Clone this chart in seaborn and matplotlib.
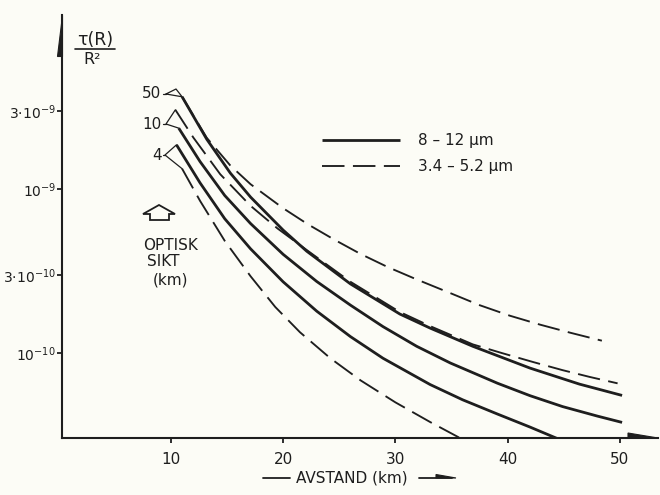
import matplotlib
matplotlib.use("Agg")
import matplotlib.pyplot as plt
from matplotlib.lines import Line2D
from matplotlib.patches import Polygon
from matplotlib.ticker import NullLocator
import seaborn as sns

# ---------------- data ----------------
# distance R in km, and tau(R)/R^2
s50_km = [11.0, 13.2, 15.3, 17.1, 20.0, 22.1, 26.0, 30.4, 33.1, 36.9, 42.0, 46.4, 50.2]
s50_val = [3.65e-9, 2.01e-9, 1.25e-9, 8.93e-10, 5.62e-10, 4.18e-10, 2.64e-10,
           1.73e-10, 1.42e-10, 1.10e-10, 8.10e-11, 6.47e-11, 5.52e-11]
d50_km = [11.0, 13.2, 15.3, 17.1, 20.0, 22.2, 24.5, 26.9, 29.3, 31.8, 34.9, 37.5,
          40.2, 42.9, 45.6, 48.4]
d50_val = [3.65e-9, 2.05e-9, 1.39e-9, 1.07e-9, 7.64e-10, 6.10e-10, 4.94e-10,
           4.02e-10, 3.35e-10, 2.83e-10, 2.32e-10, 1.96e-10, 1.69e-10, 1.49e-10,
           1.33e-10, 1.19e-10]
s10_km = [10.7, 12.6, 14.8, 17.1, 20.0, 23.0, 26.0, 28.9, 31.9, 34.9, 39.1, 42.0,
          44.9, 48.0, 50.2]
s10_val = [2.35e-9, 1.47e-9, 9.13e-10, 6.16e-10, 4.00e-10, 2.73e-10, 1.96e-10,
           1.45e-10, 1.10e-10, 8.70e-11, 6.55e-11, 5.50e-11, 4.72e-11, 4.13e-11,
           3.78e-11]
d10_km = [10.4, 12.0, 14.4, 17.1, 19.5, 22.1, 26.0, 30.4, 33.1, 36.9, 39.5, 42.3,
          44.9, 47.3, 49.8]
d10_val = [3.04e-9, 2.06e-9, 1.23e-9, 7.90e-10, 5.75e-10, 4.25e-10, 2.72e-10,
           1.78e-10, 1.46e-10, 1.13e-10, 1.00e-10, 8.81e-11, 7.87e-11, 7.16e-11,
           6.54e-11]
s4_km = [10.5, 12.6, 14.8, 17.1, 20.0, 23.0, 26.0, 28.9, 33.1, 36.0, 39.1, 42.0, 44.5]
s4_val = [1.86e-9, 1.09e-9, 6.59e-10, 4.32e-10, 2.72e-10, 1.80e-10, 1.26e-10,
          9.30e-11, 6.43e-11, 5.19e-11, 4.25e-11, 3.54e-11, 3.0e-11]
d4_km = [11.0, 12.6, 14.8, 17.1, 19.3, 21.5, 24.2, 26.9, 30.0, 33.1, 35.9]
d4_val = [1.33e-9, 8.47e-10, 4.83e-10, 2.94e-10, 1.91e-10, 1.34e-10, 9.31e-11,
          6.82e-11, 5.01e-11, 3.80e-11, 3.0e-11]

band_labels = ["8 – 12 µm", "3.4 – 5.2 µm"]
sikt_labels = ["50", "10", "4"]
x_ticks = [10, 20, 30, 40, 50]
x_ticklabels = ["10", "20", "30", "40", "50"]
y_ticks = [3e-9, 1e-9, 3e-10, 1e-10]
y_ticklabels = [r"$3{\cdot}10^{-9}$", r"$10^{-9}$", r"$3{\cdot}10^{-10}$", r"$10^{-10}$"]

# ---------------- style ----------------
sns.set_style("ticks")
plt.rcParams["font.family"] = ["DejaVu Sans"]
plt.rcParams["mathtext.fontset"] = "dejavusans"
plt.rcParams["mathtext.default"] = "regular"

INK = "#1e1e1e"
BG = "#fcfcf6"
W, H = 660, 495


def fx(px):
    return px / W


def fy(py):
    return 1 - py / H


fig = plt.figure(figsize=(6.6, 4.95), dpi=100, facecolor=BG)
ax = fig.add_axes([fx(62), fy(437.7), (658 - 62) / W, (437.7 - 15) / H])
ax.set_facecolor(BG)
ax.set_yscale("log")

solid_kw = dict(color=INK, linewidth=2.0, solid_capstyle="butt", solid_joinstyle="round")
dash_kw = dict(color=INK, linewidth=1.35, linestyle=(0, (12, 4.5)), dash_capstyle="butt")

curves = [
    (s50_km, s50_val, solid_kw),
    (d50_km, d50_val, dash_kw),
    (s10_km, s10_val, solid_kw),
    (d10_km, d10_val, dash_kw),
    (s4_km, s4_val, solid_kw),
    (d4_km, d4_val, dash_kw),
]
for km, val, kw in curves:
    sns.lineplot(x=km, y=val, ax=ax, sort=False, estimator=None, legend=False, **kw)

ax.set_xlim(0.3, 53.4)
ax.set_ylim(3.05e-11, 1.15e-8)
ax.set_xticks(x_ticks)
ax.set_xticklabels(x_ticklabels)
ax.set_yticks(y_ticks)
ax.set_yticklabels(y_ticklabels)
ax.yaxis.set_minor_locator(NullLocator())
ax.xaxis.set_minor_locator(NullLocator())
ax.set_xlabel("")
ax.set_ylabel("")
ax.tick_params(axis="both", direction="out", color=INK, width=1.3, labelcolor=INK)
ax.tick_params(axis="y", length=3.5, pad=0.8, labelsize=10)
ax.tick_params(axis="x", length=3.5, pad=7, labelsize=11)
for s in ["top", "right"]:
    ax.spines[s].set_visible(False)
for s in ["left", "bottom"]:
    ax.spines[s].set_color(INK)
    ax.spines[s].set_linewidth(1.5)

# axis arrow heads (half heads, as drawn)
fig.add_artist(Polygon([(fx(62), fy(15)), (fx(62), fy(56)), (fx(57), fy(56))],
                       closed=True, transform=fig.transFigure, fc=INK, ec=INK, lw=0.8))
fig.add_artist(Polygon([(fx(628), fy(433)), (fx(658), fy(438)), (fx(628), fy(438))],
                       closed=True, transform=fig.transFigure, fc=INK, ec=INK, lw=0.8))

# legend
lines = ax.get_lines()
ax.legend([lines[0], lines[1]], band_labels, loc="upper left",
          bbox_to_anchor=(fx(322), fy(133)), bbox_transform=fig.transFigure,
          frameon=False, handlelength=5.1, handletextpad=1.2, labelspacing=0.75,
          borderpad=0, borderaxespad=0, fontsize=11, labelcolor=INK)

# y-axis quantity  tau(R) / R^2
fig.text(fx(95), fy(40), "τ(R)", ha="center", va="center", fontsize=12.5, color=INK)
fig.add_artist(Line2D([fx(75), fx(115)], [fy(49), fy(49)], transform=fig.transFigure,
                      color=INK, lw=1.2))
fig.text(fx(92), fy(59), "R²", ha="center", va="center", fontsize=11.5, color=INK)

# x-axis caption with arrow
fig.text(fx(352), fy(478), "AVSTAND (km)", ha="center", va="center", fontsize=11, color=INK)
fig.add_artist(Line2D([fx(263), fx(290)], [fy(478), fy(478)], transform=fig.transFigure,
                      color=INK, lw=1.3))
fig.add_artist(Line2D([fx(419), fx(452)], [fy(478), fy(478)], transform=fig.transFigure,
                      color=INK, lw=1.3))
fig.add_artist(Polygon([(fx(436), fy(474.5)), (fx(456), fy(478)), (fx(436), fy(478))],
                       closed=True, transform=fig.transFigure, fc=INK, ec=INK, lw=0.8))

# OPTISK SIKT labels with brackets pointing at the curve starts
fig.canvas.draw()
inv = ax.transData.inverted()


def p2d(px, py):
    return inv.transform((px, H - py))


label_y = [94, 124, 155]
apex_x = [166, 166, 165]
pairs = [((s50_km[0], s50_val[0]), (d50_km[0], d50_val[0])),
         ((d10_km[0], d10_val[0]), (s10_km[0], s10_val[0])),
         ((s4_km[0], s4_val[0]), (d4_km[0], d4_val[0]))]
for lab, ly, axp, (p_up, p_lo) in zip(sikt_labels, label_y, apex_x, pairs):
    fig.text(fx(161.5), fy(ly), lab, ha="right", va="center", fontsize=11, color=INK)
    apex = p2d(axp, ly)
    stub = p2d(162.5, ly)
    ax.plot([stub[0], apex[0]], [stub[1], apex[1]], color=INK, lw=0.9, clip_on=False)
    if lab == "50":
        top = p2d(176, 89)
        ax.plot([apex[0], top[0], p_up[0], apex[0]], [apex[1], top[1], p_up[1], apex[1]],
                color=INK, lw=0.9, clip_on=False)
    else:
        ax.plot([p_up[0], apex[0], p_lo[0]], [p_up[1], apex[1], p_lo[1]],
                color=INK, lw=0.9, clip_on=False)

# hollow up arrow and caption
arrow_px = [(159, 205), (175, 214), (169, 214), (169, 220), (150, 220), (150, 214), (143, 214)]
fig.add_artist(Polygon([(fx(a), fy(b)) for a, b in arrow_px], closed=True,
                       transform=fig.transFigure, fill=False, ec=INK, lw=1.3))
fig.text(fx(143), fy(246), "OPTISK", ha="left", va="center", fontsize=11, color=INK)
fig.text(fx(147), fy(262), "SIKT", ha="left", va="center", fontsize=11, color=INK)
fig.text(fx(153), fy(280), "(km)", ha="left", va="center", fontsize=11, color=INK)

fig.savefig("out.png", dpi=100, facecolor=BG)
